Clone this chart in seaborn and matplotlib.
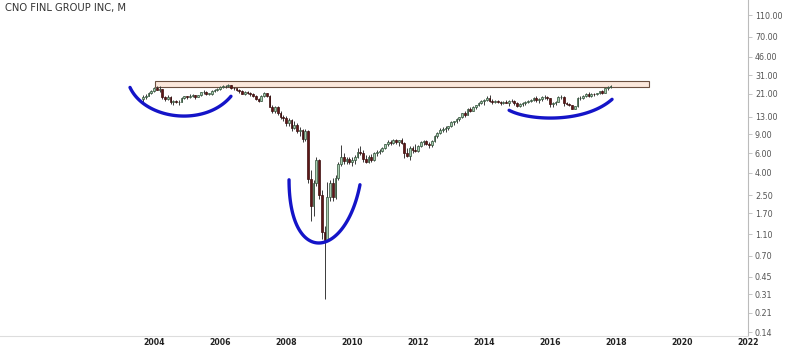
import numpy as np
import pandas as pd
import matplotlib
matplotlib.use("Agg")
import matplotlib.pyplot as plt
import seaborn as sns
from matplotlib.patches import Rectangle

# ---------------- data (monthly OHLC, Sep 2003 .. Nov 2017) ----------------
title = "CNO FINL GROUP INC, M"
first_month = "2003-09-01"

opens = [
    19.0, 19.6, 20.3, 21.5,
    22.4, 23.6, 23.0, 23.2, 19.6, 18.8, 19.9, 17.6, 18.0, 17.7, 17.9, 19.4,
    19.95, 19.6, 20.3, 20.4, 19.8, 20.4, 21.8, 22.0, 21.1, 21.1, 22.3, 22.8,
    23.2, 24.4, 24.6, 24.8, 25.2, 24.0, 23.6, 23.0, 22.2, 21.0, 21.8, 21.3,
    21.0, 20.0, 19.0, 18.2, 20.2, 21.4, 20.2, 16.0, 14.6, 16.0, 14.2, 13.0,
    12.6, 11.4, 12.2, 10.2, 11.0, 9.6, 9.9, 8.2, 9.6, 3.5, 2.0, 3.2,
    5.2, 2.5, 1.15, 0.98, 2.4, 3.2, 2.4, 3.6, 4.8, 5.6, 5.1, 5.3,
    5.0, 5.2, 5.6, 6.2, 6.0, 5.4, 5.0, 5.6, 5.2, 6.0, 6.2, 6.3,
    6.8, 7.3, 7.7, 7.5, 8.0, 7.6, 7.9, 7.5, 6.0, 5.7, 6.8, 6.5,
    6.3, 7.0, 7.6, 7.8, 7.3, 7.2, 7.8, 8.6, 9.2, 9.9, 10.0, 10.2,
    10.6, 11.6, 11.8, 12.4, 12.8, 14.0, 13.6, 15.4, 14.8, 15.8, 16.6, 17.4,
    18.0, 18.6, 19.4, 18.2, 17.6, 18.0, 17.8, 17.2, 17.8, 17.4, 18.2, 18.0,
    17.2, 16.2, 17.0, 17.2, 17.8, 18.2, 18.4, 19.4, 18.4, 18.8, 19.6, 19.9,
    19.1, 17.0, 17.2, 17.9, 19.6, 19.8, 17.4, 17.0, 16.6, 15.4, 16.2, 19.2,
    19.2, 20.2, 21.2, 20.0, 21.0, 20.8, 21.4, 22.2, 21.6, 23.6, 24.2,
]
highs = [
    20.5, 21.0, 22.0, 22.8,
    24.5, 24.8, 24.6, 23.5, 20.3, 20.4, 20.0, 18.4, 18.6, 18.4, 19.8, 20.3,
    20.2, 20.8, 20.9, 20.6, 20.7, 22.0, 22.6, 22.2, 21.6, 22.6, 23.4, 23.6,
    24.8, 25.2, 25.3, 25.8, 25.4, 24.4, 24.0, 23.3, 22.6, 22.4, 22.2, 21.8,
    21.4, 20.4, 19.2, 20.6, 22.0, 21.6, 20.4, 16.6, 16.4, 16.4, 14.6, 13.6,
    13.2, 12.6, 12.4, 12.0, 11.4, 10.4, 10.0, 10.0, 9.9, 4.2, 3.4, 5.6,
    5.4, 2.8, 1.3, 3.3, 3.4, 3.6, 3.8, 5.0, 7.2, 6.0, 5.6, 5.6,
    5.6, 5.8, 6.8, 7.0, 6.4, 5.8, 5.8, 5.9, 6.2, 6.4, 6.6, 6.9,
    7.4, 7.9, 8.0, 8.2, 8.2, 8.0, 8.4, 7.6, 6.8, 7.0, 7.0, 7.3,
    7.2, 7.8, 8.0, 8.0, 7.6, 7.9, 8.8, 9.4, 10.2, 10.4, 10.6, 10.8,
    11.8, 12.0, 12.6, 13.0, 14.2, 14.6, 15.6, 16.0, 16.2, 16.8, 17.6, 18.4,
    19.0, 20.0, 20.4, 18.8, 18.4, 18.6, 18.2, 18.0, 18.6, 18.4, 18.8, 18.4,
    17.6, 17.4, 17.6, 18.0, 18.6, 18.8, 19.8, 20.0, 19.2, 20.0, 20.4, 20.2,
    19.2, 17.6, 18.2, 20.2, 20.4, 20.0, 17.8, 17.4, 16.8, 16.4, 19.6, 20.0,
    20.4, 21.6, 21.8, 21.4, 21.6, 21.6, 22.4, 22.6, 24.0, 24.6, 25.4,
]
lows = [
    17.8, 19.0, 20.0, 21.0,
    22.0, 22.6, 22.0, 19.0, 18.2, 18.4, 17.0, 16.8, 17.2, 16.6, 17.6, 19.0,
    18.9, 19.4, 19.5, 18.9, 19.5, 20.2, 21.2, 20.6, 20.4, 20.6, 22.0, 22.4,
    23.0, 23.8, 23.9, 24.2, 23.2, 22.6, 22.4, 21.6, 20.8, 20.6, 20.9, 20.2,
    19.6, 18.6, 17.6, 18.0, 19.8, 19.8, 15.8, 14.0, 14.2, 13.4, 12.4, 11.8,
    10.6, 10.8, 9.6, 10.0, 9.2, 8.6, 7.6, 7.8, 3.2, 1.45, 1.6, 3.0,
    2.3, 1.0, 0.28, 0.95, 2.2, 2.2, 2.3, 3.4, 4.6, 4.8, 4.8, 4.8,
    4.6, 4.8, 5.5, 5.8, 5.0, 4.9, 4.9, 5.0, 5.1, 5.7, 5.9, 6.2,
    6.6, 7.0, 7.1, 7.4, 7.4, 7.0, 7.4, 5.5, 5.6, 5.2, 6.0, 6.2,
    6.2, 6.9, 7.2, 7.1, 6.7, 6.9, 7.6, 8.3, 9.0, 9.4, 9.4, 9.8,
    10.4, 11.0, 11.4, 11.8, 12.6, 12.8, 13.4, 14.4, 14.6, 15.2, 16.2, 17.0,
    16.8, 18.0, 17.8, 17.0, 17.2, 17.4, 16.8, 17.0, 17.2, 16.4, 17.6, 16.6,
    15.8, 15.8, 16.4, 16.6, 17.2, 17.6, 18.0, 17.6, 17.2, 18.2, 19.0, 18.6,
    15.8, 16.0, 16.8, 17.6, 18.8, 16.2, 16.6, 16.2, 15.2, 15.2, 15.8, 18.6,
    18.8, 19.8, 19.8, 19.6, 20.0, 20.4, 21.0, 21.0, 21.4, 22.8, 23.8,
]
closes = [
    19.6, 20.3, 21.5, 22.4,
    23.6, 23.0, 23.2, 19.6, 18.8, 19.9, 17.6, 18.0, 17.7, 17.9, 19.4, 19.95,
    19.6, 20.3, 20.4, 19.8, 20.4, 21.8, 22.0, 21.1, 21.1, 22.3, 22.8, 23.2,
    24.4, 24.6, 24.8, 25.2, 24.0, 23.6, 23.0, 22.2, 21.0, 21.8, 21.3, 21.0,
    20.0, 19.0, 18.2, 20.2, 21.4, 20.2, 16.0, 14.6, 16.0, 14.2, 13.0, 12.6,
    11.4, 12.2, 10.2, 11.0, 9.6, 9.9, 8.2, 9.6, 3.5, 2.0, 3.2, 5.2,
    2.5, 1.15, 0.98, 2.4, 3.2, 2.4, 3.6, 4.8, 5.6, 5.1, 5.3, 5.0,
    5.2, 5.6, 6.2, 6.0, 5.4, 5.0, 5.6, 5.2, 6.0, 6.2, 6.3, 6.8,
    7.3, 7.7, 7.5, 8.0, 7.6, 7.9, 7.5, 6.0, 5.7, 6.8, 6.5, 6.3,
    7.0, 7.6, 7.8, 7.3, 7.2, 7.8, 8.6, 9.2, 9.9, 10.0, 10.2, 10.6,
    11.6, 11.8, 12.4, 12.8, 14.0, 13.6, 15.4, 14.8, 15.8, 16.6, 17.4, 18.0,
    18.6, 19.4, 18.2, 17.6, 18.0, 17.8, 17.2, 17.8, 17.4, 18.2, 18.0, 17.2,
    16.2, 17.0, 17.2, 17.8, 18.2, 18.4, 19.4, 18.4, 18.8, 19.6, 19.9, 19.1,
    17.0, 17.2, 17.9, 19.6, 19.8, 17.4, 17.0, 16.6, 15.4, 16.2, 19.2, 19.2,
    20.2, 21.2, 20.0, 21.0, 20.8, 21.4, 22.2, 21.6, 23.6, 24.2, 24.7,
]

price_ticks = [110, 70, 46, 31, 21, 13, 9, 6, 4, 2.5, 1.7, 1.1, 0.7, 0.45, 0.31, 0.21, 0.14]
year_ticks = [2004, 2006, 2008, 2010, 2012, 2014, 2016, 2018, 2020, 2022]

# resistance zone (annotation)
zone_start, zone_end = 2004.03, 2019.0
zone_low, zone_high = 24.1, 27.3

# hand-drawn arcs (annotation), cubic Bezier control points as (year, price)
arc_left = [(2003.27, 24.1), (2003.73, 12.1), (2005.55, 10.45), (2006.33, 20.0)]
arc_bottom = [(2008.09, 3.45), (2008.09, 0.56), (2009.79, 0.635), (2010.24, 3.11)]
arc_right = [(2014.76, 14.9), (2015.39, 11.84), (2017.06, 11.36), (2017.88, 18.76)]

# ---------------- build frame ----------------
dates = pd.date_range(first_month, periods=len(closes), freq="MS")
df = pd.DataFrame({"date": dates, "open": opens, "high": highs,
                   "low": lows, "close": closes})
df["t"] = df["date"].dt.year + (df["date"].dt.month - 1) / 12.0
df["dir"] = np.where(df["close"] >= df["open"], "up", "down")

sns.set_theme(style="white")
plt.rcParams["font.family"] = ["DejaVu Sans"]

fig = plt.figure(figsize=(8, 3.5), dpi=100)
ax = fig.add_axes([0.0, 0.04, 0.935, 0.96])

up_face, up_edge = "#a9cdb0", "#2f4f37"
dn_face, dn_edge = "#5e1717", "#3a0c0c"

# wicks
ax.vlines(df["t"], df["low"], df["high"], color="#3a3a3a", linewidth=0.7, zorder=2)
# bodies
w = 0.055
for d, face, edge in (("up", up_face, up_edge), ("down", dn_face, dn_edge)):
    sub = df[df["dir"] == d]
    bottoms = np.minimum(sub["open"], sub["close"])
    heights = np.abs(sub["close"] - sub["open"])
    heights = np.maximum(heights, bottoms * 0.012)
    ax.bar(sub["t"], heights, bottom=bottoms, width=w, color=face,
           edgecolor=edge, linewidth=0.5, zorder=3)

# resistance zone
ax.add_patch(Rectangle((zone_start, zone_low), zone_end - zone_start,
                       zone_high - zone_low, facecolor="#fbe8dc",
                       edgecolor="#6b5040", linewidth=0.8, zorder=1))

ax.set_yscale("log")

def draw_arc(pts):
    xs = [p[0] for p in pts]
    ys = [np.log(p[1]) for p in pts]
    tt = np.linspace(0, 1, 80)
    bx = ((1 - tt) ** 3 * xs[0] + 3 * (1 - tt) ** 2 * tt * xs[1]
          + 3 * (1 - tt) * tt ** 2 * xs[2] + tt ** 3 * xs[3])
    by = ((1 - tt) ** 3 * ys[0] + 3 * (1 - tt) ** 2 * tt * ys[1]
          + 3 * (1 - tt) * tt ** 2 * ys[2] + tt ** 3 * ys[3])
    ax.plot(bx, np.exp(by), color="#1414c8", linewidth=2.4,
            solid_capstyle="round", zorder=5)

for arc in (arc_left, arc_bottom, arc_right):
    draw_arc(arc)

ax.set_xlim(1999.33, 2022.0)
ax.set_ylim(0.129, 151.6)

ax.yaxis.tick_right()
ax.set_yticks(price_ticks)
ax.set_yticklabels([f"{v:.2f}" for v in price_ticks])
ax.minorticks_off()
ax.tick_params(axis="y", which="major", length=3, width=0.6, color="#bbbbbb",
               labelsize=5.8, labelcolor="#555555", pad=2, direction="out")
ax.set_xticks(year_ticks)
ax.set_xticklabels([str(y) for y in year_ticks])
ax.tick_params(axis="x", length=0, labelsize=5.6, labelcolor="#222222", pad=1.5)
for lab in ax.get_xticklabels():
    lab.set_fontweight("bold")

for s in ("left", "top"):
    ax.spines[s].set_visible(False)
ax.spines["right"].set_color("#bbbbbb")
ax.spines["right"].set_linewidth(0.8)
ax.spines["bottom"].set_color("#dddddd")
ax.spines["bottom"].set_linewidth(0.8)
ax.grid(False)

fig.text(0.006, 0.977, title, fontsize=7.2, color="#333333", va="center", ha="left")

fig.savefig("out.png", dpi=100)
